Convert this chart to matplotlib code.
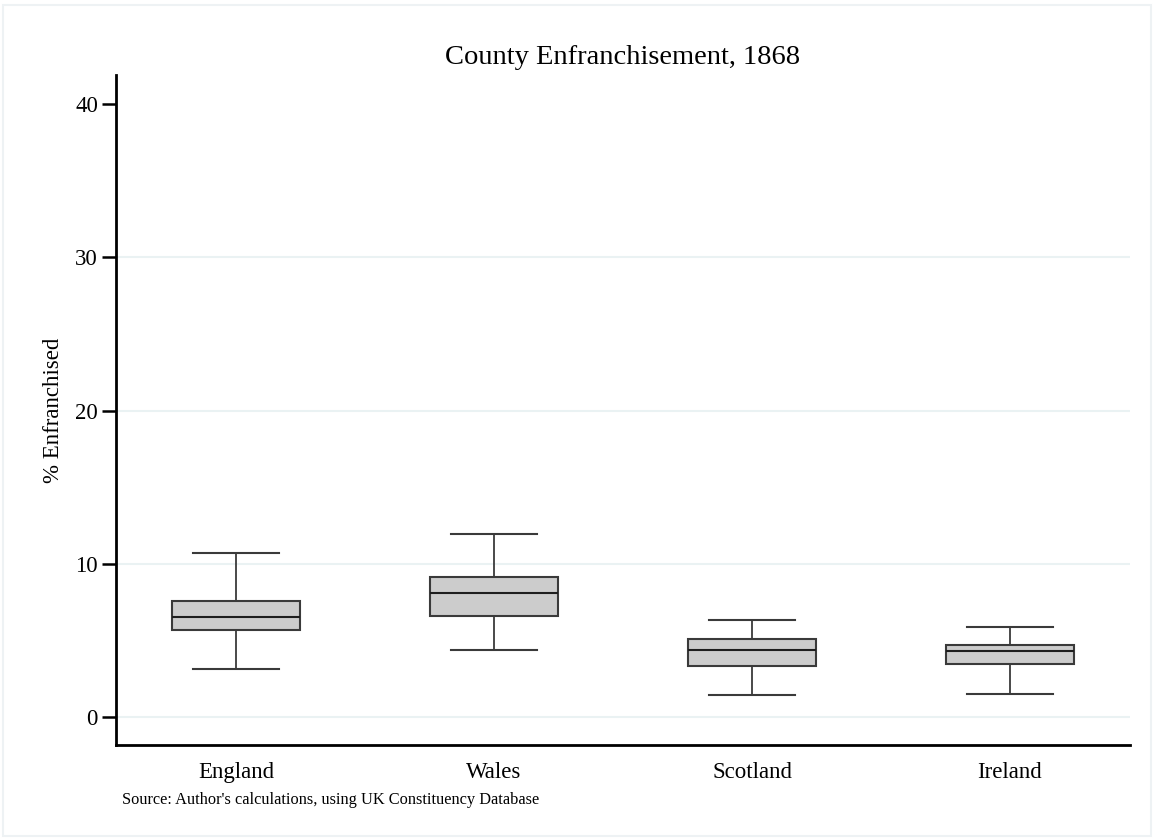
import matplotlib.pyplot as plt
from matplotlib.patches import Rectangle

plt.rcParams['font.family'] = ['Liberation Serif', 'DejaVu Serif']

regions = ['England', 'Wales', 'Scotland', 'Ireland']
whislo = [3.1, 4.4, 1.45, 1.5]
q1 = [5.65, 6.6, 3.3, 3.45]
med = [6.55, 8.1, 4.4, 4.33]
q3 = [7.57, 9.13, 5.1, 4.67]
whishi = [10.68, 11.95, 6.33, 5.9]
yticks = [0, 10, 20, 30, 40]

stats = []
for i in range(len(regions)):
    stats.append({'label': regions[i], 'whislo': whislo[i], 'q1': q1[i],
                  'med': med[i], 'q3': q3[i], 'whishi': whishi[i], 'fliers': []})

fig = plt.figure(figsize=(11.54, 8.39), dpi=100)
fig.patches.append(Rectangle((0.003, 0.003), 0.994, 0.991, transform=fig.transFigure,
                             fill=False, edgecolor='#eef2f4', lw=1.5))
ax = fig.add_axes([116/1154, 1 - 745/839, (1130-116)/1154, (745-75)/839])

for t in yticks[:-1]:
    ax.axhline(t, color='#eaf2f3', lw=1.5, zorder=0)

ec = '#3a3a3a'
ax.bxp(stats, positions=[1, 2, 3, 4], widths=0.495, capwidths=0.33,
       patch_artist=True, showfliers=False,
       boxprops=dict(facecolor='#cccccc', edgecolor=ec, lw=1.5),
       medianprops=dict(color='#1e1e1e', lw=1.5),
       whiskerprops=dict(color=ec, lw=1.3),
       capprops=dict(color=ec, lw=1.5))

ax.set_xlim(0.535, 4.465)
ax.set_ylim(-1.83, 41.9)
ax.set_yticks(yticks)
ax.tick_params(axis='y', direction='out', length=10, width=1.8, labelsize=16.5, pad=3)
ax.tick_params(axis='x', length=0, labelsize=16.5, pad=12)
ax.spines['top'].set_visible(False)
ax.spines['right'].set_visible(False)
ax.spines['left'].set_linewidth(2)
ax.spines['bottom'].set_linewidth(2)
ax.set_ylabel('% Enfranchised', fontsize=16.5, labelpad=8)
ax.set_title('County Enfranchisement, 1868', fontsize=20.5, pad=8)
fig.text(122/1154, 1 - 800/839, "Source: Author's calculations, using UK Constituency Database",
         fontsize=11.8, va='center', ha='left')

fig.savefig('out.png', dpi=100)
